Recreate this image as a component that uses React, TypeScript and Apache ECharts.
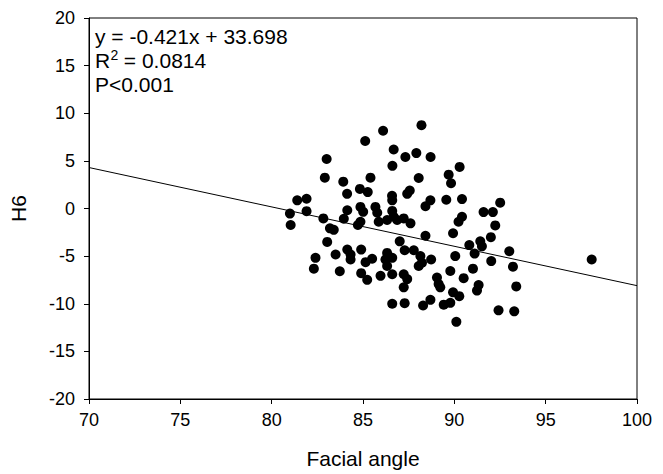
import React, { useEffect, useRef } from 'react';
import * as echarts from 'echarts';

// Facial angle (x) and H6 (y) values
const facialAngle = [
  81.40, 81.91, 81.00, 81.91, 81.04, 82.83, 83.19, 83.40, 83.04, 82.40,
  82.31, 83.50, 83.73, 83.01, 82.91, 83.92, 84.13, 83.95, 84.14, 84.14,
  84.32, 84.32, 84.90, 85.14, 85.50, 84.90, 85.23, 85.96, 84.86, 85.01,
  84.86, 84.72, 84.83, 85.26, 85.41, 85.12, 86.10, 86.68, 86.61, 86.59,
  86.60, 85.68, 85.78, 86.60, 86.68, 85.86, 86.32, 86.87, 87.23, 87.60,
  86.32, 86.23, 86.60, 86.32, 86.60, 86.60, 87.01, 87.28, 87.78, 88.14,
  88.05, 88.23, 88.73, 90.05, 87.23, 87.42, 87.23, 89.78, 89.05, 89.14,
  89.23, 89.93, 90.27, 87.28, 88.29, 88.69, 89.42, 89.78, 90.11, 88.42,
  88.42, 88.69, 89.56, 87.56, 87.42, 87.32, 87.92, 88.70, 88.20, 90.29,
  88.05, 89.69, 89.82, 90.42, 92.51, 91.60, 92.11, 90.42, 90.23, 92.24,
  89.93, 92.00, 90.82, 91.42, 91.51, 91.11, 93.01, 92.02, 93.21, 91.02,
  90.51, 91.33, 91.24, 93.39, 92.42, 93.28, 97.52,
];
const h6 = [
  0.86, 1.02, -0.53, -0.28, -1.73, -1.04, -2.08, -2.24, -3.51, -5.18,
  -6.32, -4.83, -6.59, 5.20, 3.24, 2.82, 1.54, -1.08, -0.18, -4.31,
  -4.83, -5.35, -4.31, -5.63, -5.28, -6.79, -7.49, -7.07, 0.17, -0.35,
  -1.39, -1.73, 2.06, 1.72, 3.24, 7.09, 8.16, 6.19, 4.48, 1.33,
  0.86, 0.17, -0.45, -0.25, -0.87, -1.39, -1.21, -1.21, -1.04, -1.56,
  -4.66, -5.35, -5.18, -6.04, -6.90, -10.00, -3.45, -4.38, -4.38, -5.00,
  -6.04, -5.70, -5.35, -5.00, -6.90, -7.41, -8.28, -6.56, -7.25, -7.93,
  -8.28, -8.80, -9.20, -9.94, -10.18, -9.59, -10.10, -9.90, -11.90, -2.86,
  0.24, 0.86, 0.92, 1.89, 1.54, 5.41, 5.82, 5.41, 8.75, 4.37,
  3.20, 3.55, 2.65, 0.99, 0.61, -0.38, -0.38, -0.87, -1.39, -1.78,
  -2.60, -3.01, -3.84, -3.45, -3.97, -4.73, -4.49, -5.52, -6.11, -6.32,
  -7.31, -8.04, -8.62, -8.18, -10.69, -10.80, -5.35,
];

// Regression line end points
const fitX = [70, 100];
const fitY = [4.3, -8.1];

const equationText = 'y = -0.421x + 33.698';
const r2Label = 'R';
const r2Sup = '2';
const r2Value = ' = 0.0814';
const pText = 'P<0.001';

const xAxisName = 'Facial angle';
const yAxisName = 'H6';

const FONT = "'Liberation Sans', Arial, Helvetica, sans-serif";

export default function App() {
  const ref = useRef<HTMLDivElement>(null);

  useEffect(() => {
    if (!ref.current) return;
    const chart = echarts.init(ref.current, undefined, { renderer: 'svg' });
    const points = facialAngle.map((x, i) => [x, h6[i]]);
    const fit = fitX.map((x, i) => [x, fitY[i]]);

    chart.setOption({
      animation: false,
      backgroundColor: '#ffffff',
      textStyle: { fontFamily: FONT, color: '#000' },
      grid: {
        left: 88,
        right: 26,
        top: 18,
        bottom: 68,
        show: true,
        borderColor: '#000',
        borderWidth: 1,
        backgroundColor: 'transparent',
      },
      xAxis: {
        type: 'value',
        min: 70,
        max: 100,
        interval: 5,
        name: xAxisName,
        nameLocation: 'middle',
        nameGap: 49,
        nameTextStyle: { fontSize: 21, color: '#000', fontFamily: FONT },
        axisLine: { show: true, onZero: false, lineStyle: { color: '#000', width: 1 } },
        axisTick: { show: true, inside: false, length: 5, lineStyle: { color: '#000' } },
        axisLabel: { fontSize: 18, color: '#000', margin: 12, fontFamily: FONT },
        splitLine: { show: false },
      },
      yAxis: {
        type: 'value',
        min: -20,
        max: 20,
        interval: 5,
        name: yAxisName,
        nameLocation: 'middle',
        nameGap: 60,
        nameTextStyle: { fontSize: 21, color: '#000', fontFamily: FONT },
        axisLine: { show: true, onZero: false, lineStyle: { color: '#000', width: 1 } },
        axisTick: { show: true, inside: false, length: 5, lineStyle: { color: '#000' } },
        axisLabel: { fontSize: 18, color: '#000', margin: 14, fontFamily: FONT },
        splitLine: { show: false },
      },
      series: [
        {
          type: 'line',
          data: fit,
          symbol: 'none',
          lineStyle: { color: '#000', width: 1 },
          silent: true,
          z: 1,
        },
        {
          type: 'scatter',
          data: points,
          symbol: 'circle',
          symbolSize: 10,
          itemStyle: { color: '#000', opacity: 1 },
          z: 2,
        },
      ],
      graphic: [
        {
          type: 'text',
          left: 95,
          top: 26,
          style: { text: equationText, fontSize: 21, fill: '#000', fontFamily: FONT },
        },
        {
          type: 'text',
          left: 95,
          top: 50,
          style: { text: r2Label, fontSize: 21, fill: '#000', fontFamily: FONT },
        },
        {
          type: 'text',
          left: 110.5,
          top: 48,
          style: { text: r2Sup, fontSize: 14, fill: '#000', fontFamily: FONT },
        },
        {
          type: 'text',
          left: 118,
          top: 50,
          style: { text: r2Value, fontSize: 21, fill: '#000', fontFamily: FONT },
        },
        {
          type: 'text',
          left: 95,
          top: 74,
          style: { text: pText, fontSize: 21, fill: '#000', fontFamily: FONT },
        },
      ],
    });

    return () => chart.dispose();
  }, []);

  return (
    <div
      ref={ref}
      style={{ position: 'fixed', left: 0, top: 0, width: 663, height: 474, background: '#fff' }}
    />
  );
}
